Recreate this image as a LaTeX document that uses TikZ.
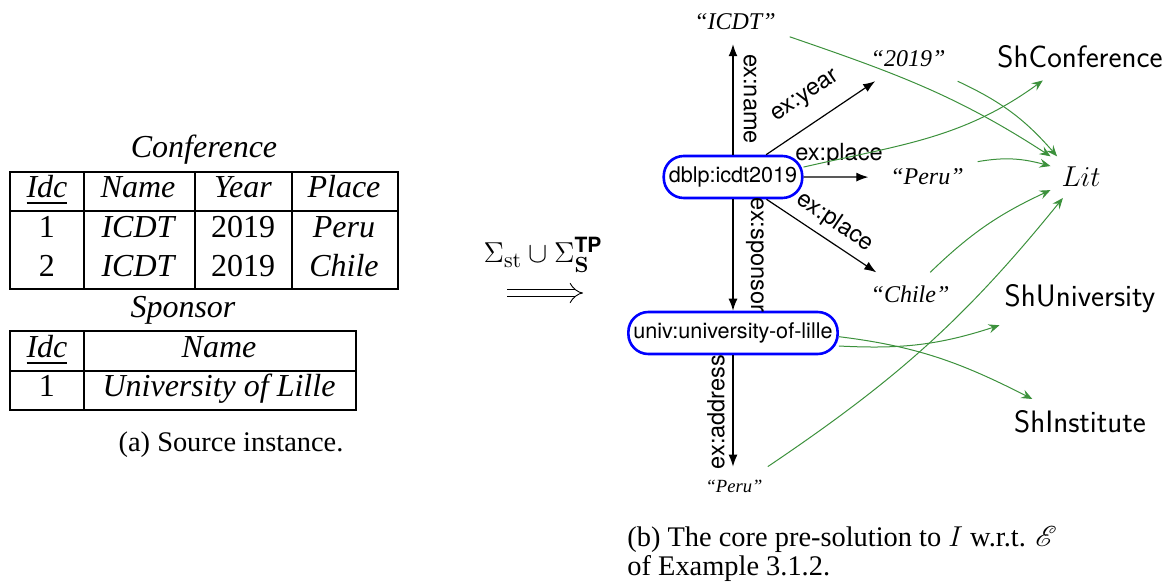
\documentclass[tikz,border=0pt]{standalone}
\usepackage{amsmath}
\usepackage{mathrsfs}
\usepackage[no-math]{fontspec}
\setmainfont{Liberation Serif}
\newfontfamily\helv{TeX Gyre Heros}
\usetikzlibrary{arrows.meta,calc}
\definecolor{edgegreen}{RGB}{60,145,60}
\tikzset{
 lit/.style={font=\fontsize{12}{14}\selectfont\itshape, inner sep=4pt, outer sep=3pt},
 slit/.style={lit, font=\fontsize{9.3}{11}\selectfont\itshape},
 res/.style={draw=blue, line width=1.3pt, rounded corners=10pt, fill=white, font=\helv\fontsize{10.8}{13}\selectfont, minimum height=21pt, inner xsep=2.5pt, inner ysep=0pt},
 cls/.style={font=\sffamily\fontsize{15.5}{18}\selectfont, inner sep=2pt, outer sep=4pt},
 litc/.style={font=\fontsize{14}{16}\selectfont, inner sep=1.5pt, outer sep=4pt},
 lbl/.style={font=\helv\fontsize{11.8}{14}\selectfont, inner sep=0pt},
 rel/.style={-{Latex[length=6pt,width=4.5pt]}, line width=0.6pt},
 typ/.style={-{Stealth[length=5.5pt,width=4.5pt,inset=2pt]}, draw=edgegreen, line width=0.5pt},
 tb/.style={font=\fontsize{16}{19}\selectfont, inner sep=0pt, anchor=base},
 tbl/.style={line width=0.6pt},
 captext/.style={font=\fontsize{14.2}{17}\selectfont, inner sep=0pt},
}
\begin{document}
\begin{tikzpicture}[x=0.5pt,y=0.5pt]
\useasboundingbox (0,0) rectangle (1174,-587);

% ---------- source instance ----------
\node[tb] (tconf) at (204,-158) {\itshape Conference};
\draw[tbl] (10,-172) rectangle (398,-289);
\draw[tbl] (10,-211) -- (398,-211);
\draw[tbl] (84,-172) -- (84,-289) (195,-172) -- (195,-289) (292,-172) -- (292,-289);
\node[tb] (h1) at (47,-198) {\itshape\underline{Idc}};
\node[tb] (h2) at (138,-198) {\itshape Name};
\node[tb] (h3) at (243,-198) {\itshape Year};
\node[tb] (h4) at (344,-198) {\itshape Place};
\node[tb] (a1) at (47,-238) {1};
\node[tb] (a2) at (138,-238) {\itshape ICDT};
\node[tb] (a3) at (243,-238) {2019};
\node[tb] (a4) at (344,-238) {\itshape Peru};
\node[tb] (b1) at (47,-277) {2};
\node[tb] (b2) at (138,-277) {\itshape ICDT};
\node[tb] (b3) at (243,-277) {2019};
\node[tb] (b4) at (344,-277) {\itshape Chile};

\node[tb] (tspon) at (183,-318) {\itshape Sponsor};
\draw[tbl] (10,-331) rectangle (356,-410);
\draw[tbl] (10,-371) -- (356,-371);
\draw[tbl] (84,-331) -- (84,-410);
\node[tb] (s1) at (47,-358) {\itshape\underline{Idc}};
\node[tb] (s2) at (219,-358) {\itshape Name};
\node[tb] (s3) at (47,-397) {1};
\node[tb] (s4) at (219,-397) {\itshape University of Lille};

\node[captext, anchor=base] (capa) at (231,-452) {(a) Source instance.};

% ---------- mapping arrow ----------
\node[font=\fontsize{15}{18}\selectfont, inner sep=0pt, anchor=base] (sig) at (543,-263)
  {$\Sigma_{\mathrm{st}}\cup\Sigma_{\mathbf{S}}^{\text{\helv\bfseries TP}}$};
\coordinate (ar1) at (507,-293);
\coordinate (ar2) at (583,-293);
\draw[double, double distance=3.2pt, line width=0.45pt, -{Implies}] (ar1) -- (ar2);

% ---------- graph nodes ----------
\node[res] (dblp) at (733,-177) {dblp:icdt2019};
\node[res] (univ) at (733,-333) {univ:university-of-lille};
\node[lit, anchor=base] (icdt) at (735,-30) {“ICDT”};
\node[lit, anchor=base] (y2019) at (908,-67) {“2019”};
\node[lit, anchor=base] (peru1) at (927,-185) {“Peru”};
\node[lit, anchor=base] (chile) at (910,-303) {“Chile”};
\node[slit, anchor=base] (peru2) at (734,-493) {“Peru”};
\node[cls, anchor=base] (shc) at (1080,-68) {ShConference};
\node[cls, anchor=base] (shu) at (1080,-307) {ShUniversity};
\node[cls, anchor=base] (shi) at (1080,-433) {ShInstitute};
\node[litc, anchor=base] (lit) at (1081,-187) {$Lit$};

% ---------- property edges ----------
\draw[rel] (dblp.north) -- (dblp.north |- icdt.south);
\draw[rel] (dblp) -- (y2019);
\draw[rel, shorten >=4pt] (dblp) -- (peru1);
\draw[rel] (dblp) -- (chile);
\draw[rel] (dblp.south) -- (univ.north);
\draw[rel] (univ.south) -- (univ.south |- peru2.north);

\node[lbl, rotate=-90] (lname) at (750,-99) {ex:name};
\node[lbl, rotate=34] (lyear) at (806,-97) {ex:year};
\node[lbl] (lplace1) at (839,-154) {ex:place};
\node[lbl, rotate=-34] (lplace2) at (835,-222) {ex:place};
\node[lbl, rotate=-90] (lspon) at (755,-255) {ex:sponsor};
\node[lbl, rotate=90] (laddr) at (716,-412) {ex:address};

% ---------- typing edges ----------
\draw[typ] (icdt.-15) to[out=-19, in=147] (lit.north west);
\draw[typ] (y2019.-24) to[out=-25, in=131] (lit.139);
\draw[typ] (dblp.8) to[out=13, in=-144] (shc.212);
\draw[typ] (peru1.17) to[out=10, in=165] (lit.160);
\draw[typ] (chile.48) to[out=44, in=-155] (lit.203);
\draw[typ] (peru2.31) to[out=34, in=-129] (lit.229);
\draw[typ] (univ.-7) to[out=-3, in=-162] (shu.198);
\draw[typ] (univ.-2) to[out=-7, in=153] (shi.154);

% ---------- caption ----------
\node[captext, anchor=base west] (capb1) at (627,-547) {(b) The core pre-solution to $I$ w.r.t. $\mathscr{E}$};
\node[captext, anchor=base west] (capb2) at (627,-576) {of Example 3.1.2.};
\end{tikzpicture}
\end{document}
